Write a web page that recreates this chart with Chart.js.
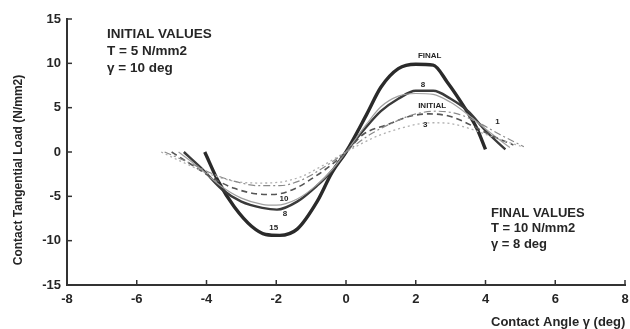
<!DOCTYPE html>
<html>
<head>
<meta charset="utf-8">
<script src="https://cdn.jsdelivr.net/npm/chart.js@4/dist/chart.umd.min.js"></script>
<style>
  html, body { margin: 0; padding: 0; background: #fff; }
  #chart { display: block; }
</style>
</head>
<body>
<canvas id="chart" width="630" height="329"></canvas>
<script>
// ---------- data ----------
const xTicks = [-8, -6, -4, -2, 0, 2, 4, 6, 8];
const yTicks = [-15, -10, -5, 0, 5, 10, 15];

// FINAL / iteration 15
const finalAngle = [-4.05, -3.65, -3.2, -2.7, -2.3, -1.9, -1.4, -0.83, -0.4, 0, 0.6, 1.0, 1.5, 2.0, 2.5, 2.9, 3.4, 3.76, 4.0];
const finalLoad  = [0, -3.4, -6.2, -8.4, -9.3, -9.4, -8.7, -5.6, -2.3, 0, 4.3, 7.3, 9.4, 9.9, 9.8, 7.9, 5.0, 2.6, 0.3];

// iteration 8
const iter8Angle = [-4.65, -4.1, -3.56, -3.0, -2.4, -1.98, -1.4, -0.83, -0.4, 0, 0.6, 1.0, 1.5, 2.0, 2.5, 3.0, 3.5, 4.0, 4.57];
const iter8Load  = [0, -2.0, -4.2, -5.6, -6.3, -6.5, -5.6, -3.8, -2.1, 0, 2.9, 4.6, 6.0, 6.9, 6.9, 6.0, 4.6, 2.4, 0.3];

// INITIAL
const initAngle = [-4.8, -4.2, -3.6, -3.0, -2.4, -2.0, -1.4, -0.8, -0.4, 0, 0.6, 1.0, 1.5, 2.0, 2.5, 3.0, 3.5, 4.0, 4.7];
const initLoad  = [0, -1.8, -3.8, -5.2, -5.9, -6.0, -5.3, -3.6, -2.0, 0, 3.2, 5.1, 6.3, 6.6, 6.5, 5.6, 4.2, 2.6, 0.5];

// iteration 10
const iter10Angle = [-5.0, -4.4, -3.8, -3.2, -2.6, -2.1, -1.5, -0.9, -0.4, 0, 0.5, 1.2, 1.8, 2.4, 3.0, 3.6, 4.2, 4.8];
const iter10Load  = [0, -1.5, -3.0, -4.1, -4.7, -4.8, -4.2, -2.8, -1.4, 0, 2.0, 3.1, 4.0, 4.3, 4.0, 3.0, 1.8, 0.8];

// iteration 3
const iter3Angle = [-5.3, -4.6, -3.9, -3.2, -2.5, -1.9, -1.3, -0.7, 0, 0.9, 1.5, 2.0, 2.5, 3.0, 3.5, 4.0, 4.5, 5.05];
const iter3Load  = [0, -1.3, -2.5, -3.3, -3.5, -3.4, -2.8, -1.6, 0, 1.8, 2.6, 3.1, 3.3, 3.2, 2.7, 2.0, 1.3, 0.6];

// iteration 1
const iter1Angle = [-5.2, -4.5, -3.8, -3.1, -2.5, -1.9, -1.3, -0.7, 0, 0.7, 1.4, 2.0, 2.6, 3.2, 3.8, 4.4, 5.1];
const iter1Load  = [0, -1.2, -2.5, -3.4, -3.8, -3.8, -3.2, -1.9, 0, 2.0, 3.4, 4.3, 4.6, 4.3, 3.3, 2.0, 0.6];

// curve tags written next to the lines: [text, angle, load]
const curveTags = [
  ["FINAL", 2.4, 10.8],
  ["8", 2.21, 7.6],
  ["INITIAL", 2.47, 5.2],
  ["3", 2.27, 3.1],
  ["1", 4.34, 3.4],
  ["10", -1.78, -5.3],
  ["8", -1.75, -7.0],
  ["15", -2.07, -8.5]
];

const initialNote = ["INITIAL VALUES", "T = 5 N/mm2", "\u03b3 = 10 deg"];
const finalNote = ["FINAL VALUES", "T = 10 N/mm2", "\u03b3 = 8 deg"];

// ---------- helpers ----------
function pts(xs, ys) {
  return xs.map((x, i) => ({ x: x, y: ys[i] }));
}

const INK = "#262626";
const FONT = "'Liberation Sans', Arial, sans-serif";

function curve(label, xs, ys, color, width, dash) {
  return {
    label: label,
    data: pts(xs, ys),
    borderColor: color,
    borderWidth: width,
    borderDash: dash || [],
    pointRadius: 0,
    fill: false,
    cubicInterpolationMode: "monotone"
  };
}

// inner tick marks + free text
const decorPlugin = {
  id: "decor",
  afterDraw(chart) {
    const ctx = chart.ctx;
    const xs = chart.scales.x, ys = chart.scales.y;
    const area = chart.chartArea;

    ctx.save();
    ctx.strokeStyle = "#333";
    ctx.lineWidth = 1.5;
    xTicks.forEach(v => {
      const px = xs.getPixelForValue(v);
      ctx.beginPath();
      ctx.moveTo(px, area.bottom);
      ctx.lineTo(px, area.bottom - 5);
      ctx.stroke();
    });
    yTicks.forEach(v => {
      const py = ys.getPixelForValue(v);
      ctx.beginPath();
      ctx.moveTo(area.left, py);
      ctx.lineTo(area.left + 5, py);
      ctx.stroke();
    });

    ctx.fillStyle = INK;
    ctx.textBaseline = "middle";

    // tags on curves
    ctx.font = "bold 8px " + FONT;
    ctx.textAlign = "center";
    curveTags.forEach(t => {
      ctx.fillText(t[0], xs.getPixelForValue(t[1]), ys.getPixelForValue(t[2]));
    });

    // value notes
    ctx.textAlign = "left";
    ctx.font = "bold 13.5px " + FONT;
    initialNote.forEach((s, i) => ctx.fillText(s, 107, 34 + i * 17));
    ctx.font = "bold 13px " + FONT;
    finalNote.forEach((s, i) => ctx.fillText(s, 491, 213 + i * 15.5));

    // axis titles
    ctx.fillText("Contact Angle \u03b3 (deg)", 491, 322);
    ctx.font = "bold 12px " + FONT;
    ctx.translate(19, 170);
    ctx.rotate(-Math.PI / 2);
    ctx.textAlign = "center";
    ctx.fillText("Contact Tangential Load (N/mm2)", 0, 0);
    ctx.restore();
  }
};

// ---------- chart ----------
new Chart(document.getElementById("chart"), {
  type: "line",
  data: {
    datasets: [
      curve("1", iter1Angle, iter1Load, "#8a8a8a", 1.2, [7, 3, 2, 3]),
      curve("3", iter3Angle, iter3Load, "#b0b0b0", 1.3, [2, 3]),
      curve("10", iter10Angle, iter10Load, "#555", 1.6, [6, 4]),
      curve("INITIAL", initAngle, initLoad, "#a0a0a0", 1.2),
      curve("8", iter8Angle, iter8Load, "#3a3a3a", 2.4),
      curve("FINAL", finalAngle, finalLoad, "#2a2a2a", 3.4)
    ]
  },
  options: {
    responsive: false,
    animation: false,
    layout: { padding: { top: 19, right: 5, left: 0, bottom: 0 } },
    plugins: { legend: { display: false }, tooltip: { enabled: false } },
    scales: {
      x: {
        type: "linear",
        min: -8,
        max: 8,
        afterBuildTicks: s => { s.ticks = xTicks.map(v => ({ value: v })); },
        afterFit: s => { s.height = 44; s.paddingLeft = 0; s.paddingRight = 0; },
        ticks: { color: INK, font: { family: FONT, size: 13, weight: "bold" }, padding: 7, maxRotation: 0 },
        grid: { drawOnChartArea: false, drawTicks: false },
        border: { color: "#333", width: 2 }
      },
      y: {
        min: -15,
        max: 15,
        afterBuildTicks: s => { s.ticks = yTicks.map(v => ({ value: v })); },
        afterFit: s => { s.width = 67; s.paddingTop = 0; s.paddingBottom = 0; },
        ticks: { color: INK, font: { family: FONT, size: 13, weight: "bold" }, padding: 6 },
        grid: { drawOnChartArea: false, drawTicks: false },
        border: { color: "#333", width: 2 }
      }
    }
  },
  plugins: [decorPlugin]
});
</script>
</body>
</html>
